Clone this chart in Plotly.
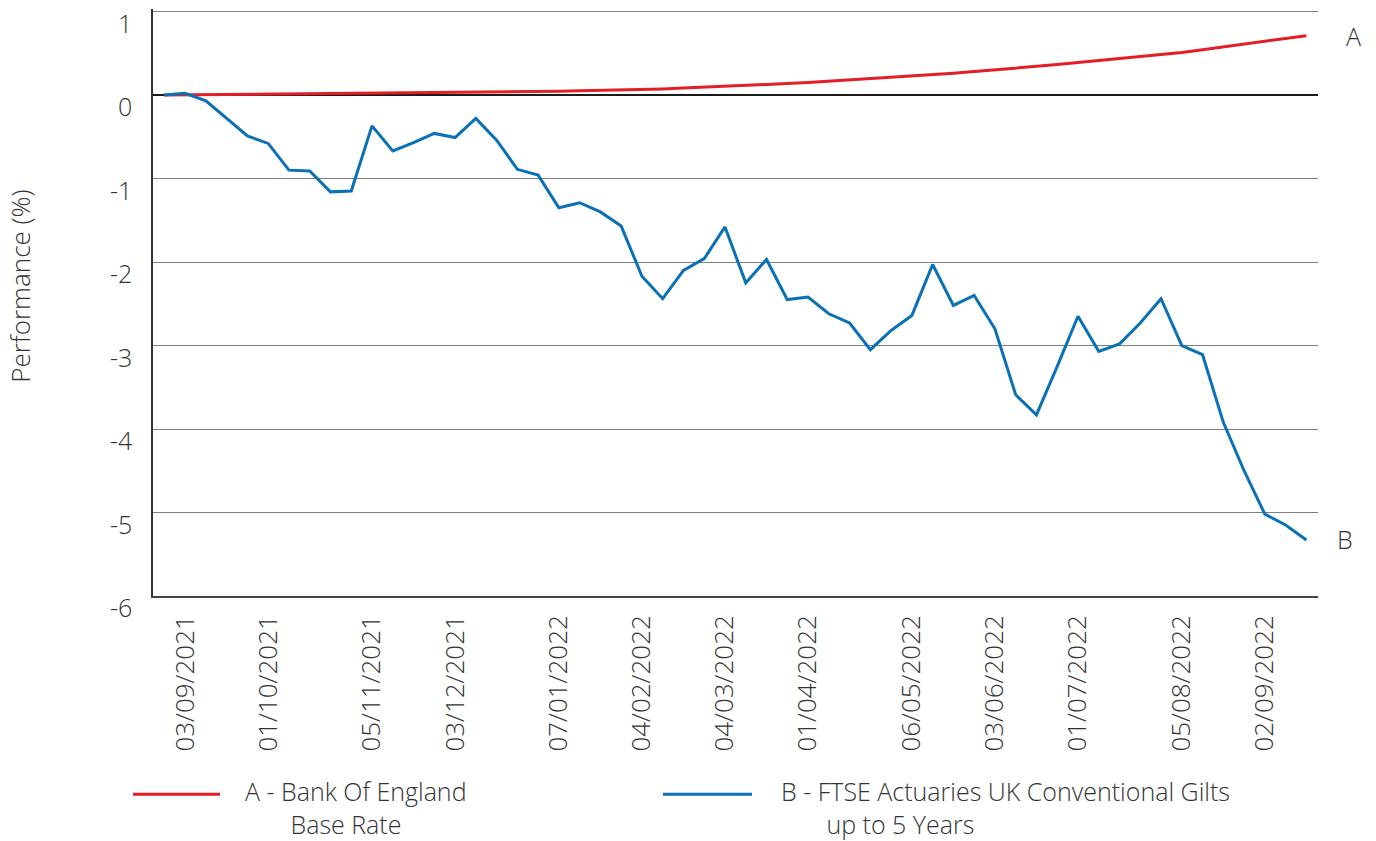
import plotly.graph_objects as go
import pandas as pd

# ---- data ----
dates = pd.date_range("2021-08-27", "2022-09-16", freq="7D")

boe_base_rate = [
    0.000, 0.002, 0.004, 0.006, 0.008, 0.010, 0.012, 0.013, 0.015, 0.017,
    0.019, 0.021, 0.023, 0.025, 0.027, 0.029, 0.031, 0.035, 0.040,
    0.045, 0.050, 0.054, 0.059, 0.064, 0.073, 0.083, 0.093, 0.102, 0.112,
    0.123, 0.137, 0.151, 0.166, 0.180, 0.194, 0.209, 0.224,
    0.243, 0.262, 0.281, 0.300, 0.319, 0.340, 0.364, 0.388, 0.412, 0.436,
    0.460, 0.484, 0.510, 0.543, 0.577, 0.610, 0.643, 0.677, 0.710,
]

ftse_gilts_5y = [
    0.00, 0.02, -0.07, -0.28, -0.49, -0.58, -0.90, -0.91, -1.16, -1.15,
    -0.37, -0.67, -0.57, -0.46, -0.51, -0.28, -0.54, -0.89, -0.96,
    -1.35, -1.29, -1.40, -1.57, -2.17, -2.44, -2.10, -1.96, -1.58, -2.25,
    -1.97, -2.45, -2.42, -2.62, -2.73, -3.05, -2.82, -2.64,
    -2.03, -2.52, -2.40, -2.80, -3.59, -3.83, -3.25, -2.65, -3.07, -2.98,
    -2.73, -2.44, -3.00, -3.11, -3.92, -4.50, -5.02, -5.15, -5.33,
]

tick_dates = [
    "2021-09-03", "2021-10-01", "2021-11-05", "2021-12-03", "2022-01-07",
    "2022-02-04", "2022-03-04", "2022-04-01", "2022-05-06", "2022-06-03",
    "2022-07-01", "2022-08-05", "2022-09-02",
]
tick_labels = [pd.Timestamp(d).strftime("%d/%m/%Y") for d in tick_dates]

y_ticks = [1, 0, -1, -2, -3, -4, -5, -6]
y_tick_labels = ["1", "0", "-1", "-2", "-3", "-4", "-5", "-6"]

series_names = [
    ("A - Bank Of England", "Base Rate"),
    ("B - FTSE Actuaries UK Conventional Gilts", "up to 5 Years"),
]
end_labels = ["A", "B"]

# ---- styling ----
FONT = "Open Sans"
WEIGHT = 300
TXT = "#333333"
RED = "#e41e26"
BLUE = "#0a71b6"

W, H = 1376, 841
Y_MIN, Y_MAX = -6, 1.03
PX_PER_UNIT = (596 - 12) / 7.0
L, R, B = 153, 1318, 596
T = 12 - (Y_MAX - 1) * PX_PER_UNIT  # so that y=1 sits at pixel 12


def px(xp):
    return (xp - L) / (R - L)


def py(yp):
    return (B - yp) / (B - T)


def f(size):
    return dict(family=FONT, size=size, color=TXT, weight=WEIGHT)


fig = go.Figure()
fig.add_trace(go.Scatter(x=dates, y=boe_base_rate, mode="lines",
                         line=dict(color=RED, width=3), showlegend=False))
fig.add_trace(go.Scatter(x=dates, y=ftse_gilts_5y, mode="lines",
                         line=dict(color=BLUE, width=3), showlegend=False))

# y tick labels (drawn slightly below their gridlines, as in the original)
for v, t in zip(y_ticks, y_tick_labels):
    fig.add_annotation(x=px(134), xref="paper", y=v, yref="y", yshift=-11,
                       text=t, showarrow=False, xanchor="right",
                       yanchor="middle", font=f(25))

# end labels
fig.add_annotation(x=px(1353), xref="paper", y=py(36), yref="paper",
                   text=end_labels[0], showarrow=False,
                   xanchor="center", yanchor="middle", font=f(25))
fig.add_annotation(x=px(1345), xref="paper", y=py(539), yref="paper",
                   text=end_labels[1], showarrow=False,
                   xanchor="center", yanchor="middle", font=f(25))

# y title
fig.add_annotation(x=px(20), xref="paper", y=py(287), yref="paper",
                   text="Performance (%)", textangle=-90, showarrow=False,
                   xanchor="center", yanchor="middle", font=f(26))

# custom legend
INDENT = "&nbsp;" * 7
legend_items = [
    (RED, 133, 220, 244, series_names[0]),
    (BLUE, 663, 752, 780, series_names[1]),
]
for color, x0, x1, tx, (l1, l2) in legend_items:
    fig.add_shape(type="line", xref="paper", yref="paper",
                  x0=px(x0), x1=px(x1), y0=py(794), y1=py(794),
                  line=dict(color=color, width=3))
    fig.add_annotation(x=px(tx), xref="paper", y=py(807), yref="paper",
                       text=l1 + "<br>" + INDENT + l2, align="left",
                       showarrow=False, xanchor="left", yanchor="middle",
                       borderpad=0, font=f(25))

fig.update_layout(
    width=W, height=H,
    margin=dict(l=L, r=W - R, t=T, b=H - B, autoexpand=False),
    paper_bgcolor="white", plot_bgcolor="white",
    font=dict(family=FONT, color=TXT),
)
fig.update_xaxes(
    range=["2021-08-23 04:00", "2022-09-19 22:00"],
    tickmode="array", tickvals=tick_dates, ticktext=tick_labels,
    tickangle=-90, tickfont=f(26),
    showgrid=False, showline=True, linecolor="#444", linewidth=1.5,
    ticks="", ticklabelstandoff=7, zeroline=False,
)
fig.update_yaxes(
    range=[Y_MIN, Y_MAX], tickmode="array", tickvals=y_ticks,
    showticklabels=False,
    showgrid=True, gridcolor="#808080", gridwidth=1,
    zeroline=True, zerolinecolor="#1a1a1a", zerolinewidth=1.5,
    showline=True, linecolor="#333", linewidth=1.5,
    ticks="",
)

fig.write_html("out.html",
               config={"displayModeBar": False},
               post_script="document.body.style.margin='0';")
